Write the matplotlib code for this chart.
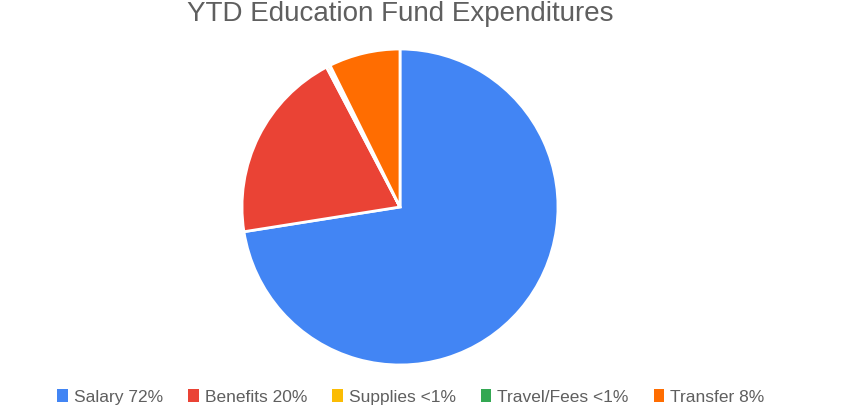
import matplotlib.pyplot as plt
from matplotlib.patches import Patch

# -----------------------------
# Data
# -----------------------------
categories = ["Salary", "Benefits", "Supplies", "Travel/Fees", "Transfer"]
shares = [72.5, 19.8, 0.3, 0.1, 7.3]
legend_labels = ["Salary 72%", "Benefits 20%", "Supplies <1%", "Travel/Fees <1%", "Transfer 8%"]
colors = ["#4285F4", "#EA4335", "#FBBC04", "#34A853", "#FF6D01"]

TITLE = "YTD Education Fund Expenditures"
TEXT_COLOR = "#5f5f5f"

plt.rcParams["font.family"] = ["Liberation Sans", "DejaVu Sans"]

fig = plt.figure(figsize=(8.5, 4.18), dpi=100)
ax = fig.add_axes([242 / 850, 1 - 365 / 418, 316 / 850, 316 / 418])

ax.pie(shares, colors=colors, startangle=90, counterclock=False, radius=1.0,
       wedgeprops=dict(edgecolor="white", linewidth=2))
ax.set_xlim(-1.0, 1.0)
ax.set_ylim(-1.0, 1.0)
ax.set_aspect("equal")
ax.axis("off")

fig.text(400 / 850, 1 - 14 / 418, TITLE, ha="center", va="center",
         fontsize=20, color=TEXT_COLOR)

handles = [Patch(facecolor=c, edgecolor="none") for c in colors]
fig.legend(handles, legend_labels, ncol=5, loc="center", bbox_to_anchor=(411 / 850, 1 - 397 / 418),
           frameon=False, fontsize=12.5, labelcolor=TEXT_COLOR, handlelength=0.6, handleheight=0.75,
           handletextpad=0.35, columnspacing=1.45)

fig.savefig("out.png", dpi=100, facecolor="white")
